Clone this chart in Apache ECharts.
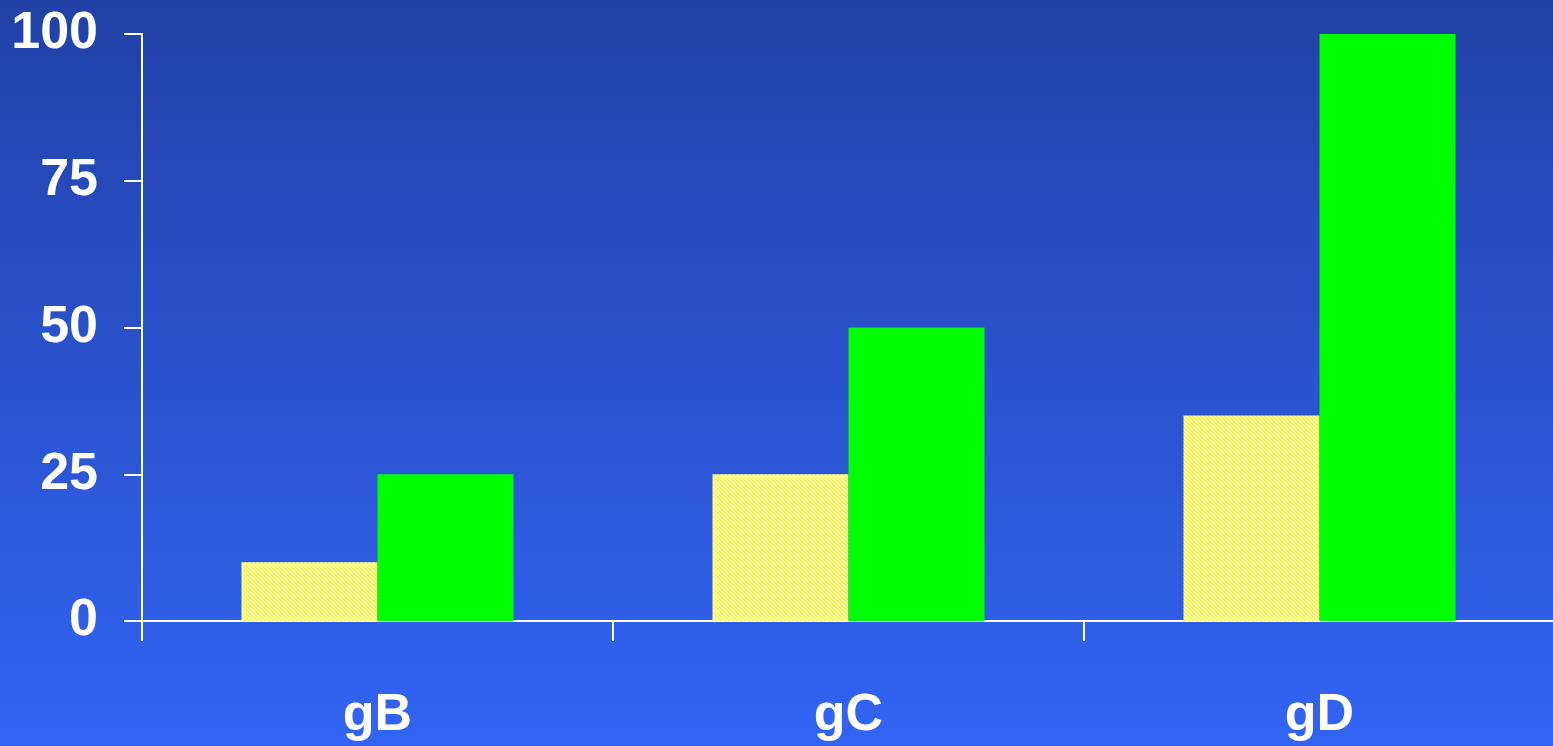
<!DOCTYPE html>
<html>
<head>
<meta charset="utf-8">
<style>
  html, body { margin: 0; padding: 0; width: 100%; height: 100%; overflow: hidden; }
  #chart { width: 1555px; height: 746px; }
</style>
<script src="https://cdn.jsdelivr.net/npm/echarts@6/dist/echarts.min.js"></script>
</head>
<body>
<div id="chart"></div>
<script>
// Categories and values
const categories = ['gB', 'gC', 'gD'];
const seriesA = [10, 25, 35];   // hatched yellow bars
const seriesB = [25, 50, 100];  // solid green bars
const yTicks = { min: 0, max: 100, interval: 25 };

// Fine diagonal yellow/white hatch fill
function makeHatch() {
  const c = document.createElement('canvas');
  c.width = 4; c.height = 4;
  const ctx = c.getContext('2d');
  ctx.fillStyle = '#ffffff';
  ctx.fillRect(0, 0, 4, 4);
  ctx.fillStyle = '#ffff00';
  for (let y = 0; y < 4; y++) {
    for (let x = 0; x < 4; x++) {
      const d = ((x - y) % 4 + 4) % 4;
      if (d === 0 || d === 1) ctx.fillRect(x, y, 1, 1);
    }
  }
  return c;
}

const chart = echarts.init(document.getElementById('chart'), null, { renderer: 'canvas' });
const labelFont = { color: '#ffffff', fontWeight: 'bold', fontFamily: 'Liberation Sans, Arial, sans-serif', fontSize: 52 };

chart.setOption({
  backgroundColor: new echarts.graphic.LinearGradient(0, 0, 0, 1, [
    { offset: 0, color: '#2141a6' },
    { offset: 1, color: '#3264f4' }
  ]),
  animation: false,
  grid: { left: 142, right: 0, top: 34, bottom: 125, containLabel: false },
  xAxis: {
    type: 'category',
    data: categories,
    boundaryGap: true,
    axisLine: { lineStyle: { color: '#ffffff', width: 2 } },
    axisTick: { show: true, length: 20, lineStyle: { color: '#ffffff', width: 2 } },
    axisLabel: Object.assign({ margin: 69 }, labelFont),
    splitLine: { show: false }
  },
  yAxis: {
    type: 'value',
    min: yTicks.min, max: yTicks.max, interval: yTicks.interval,
    axisLine: { show: true, lineStyle: { color: '#ffffff', width: 2 } },
    axisTick: { show: true, length: 18, lineStyle: { color: '#ffffff', width: 2 } },
    axisLabel: Object.assign({ margin: 44 }, labelFont),
    splitLine: { show: false }
  },
  series: [
    {
      type: 'bar',
      data: seriesA,
      barWidth: 136,
      barGap: '0%',
      itemStyle: { color: { image: makeHatch(), repeat: 'repeat' } }
    },
    {
      type: 'bar',
      data: seriesB,
      barWidth: 136,
      barGap: '0%',
      itemStyle: { color: '#00ff00' }
    }
  ]
});
</script>
</body>
</html>
